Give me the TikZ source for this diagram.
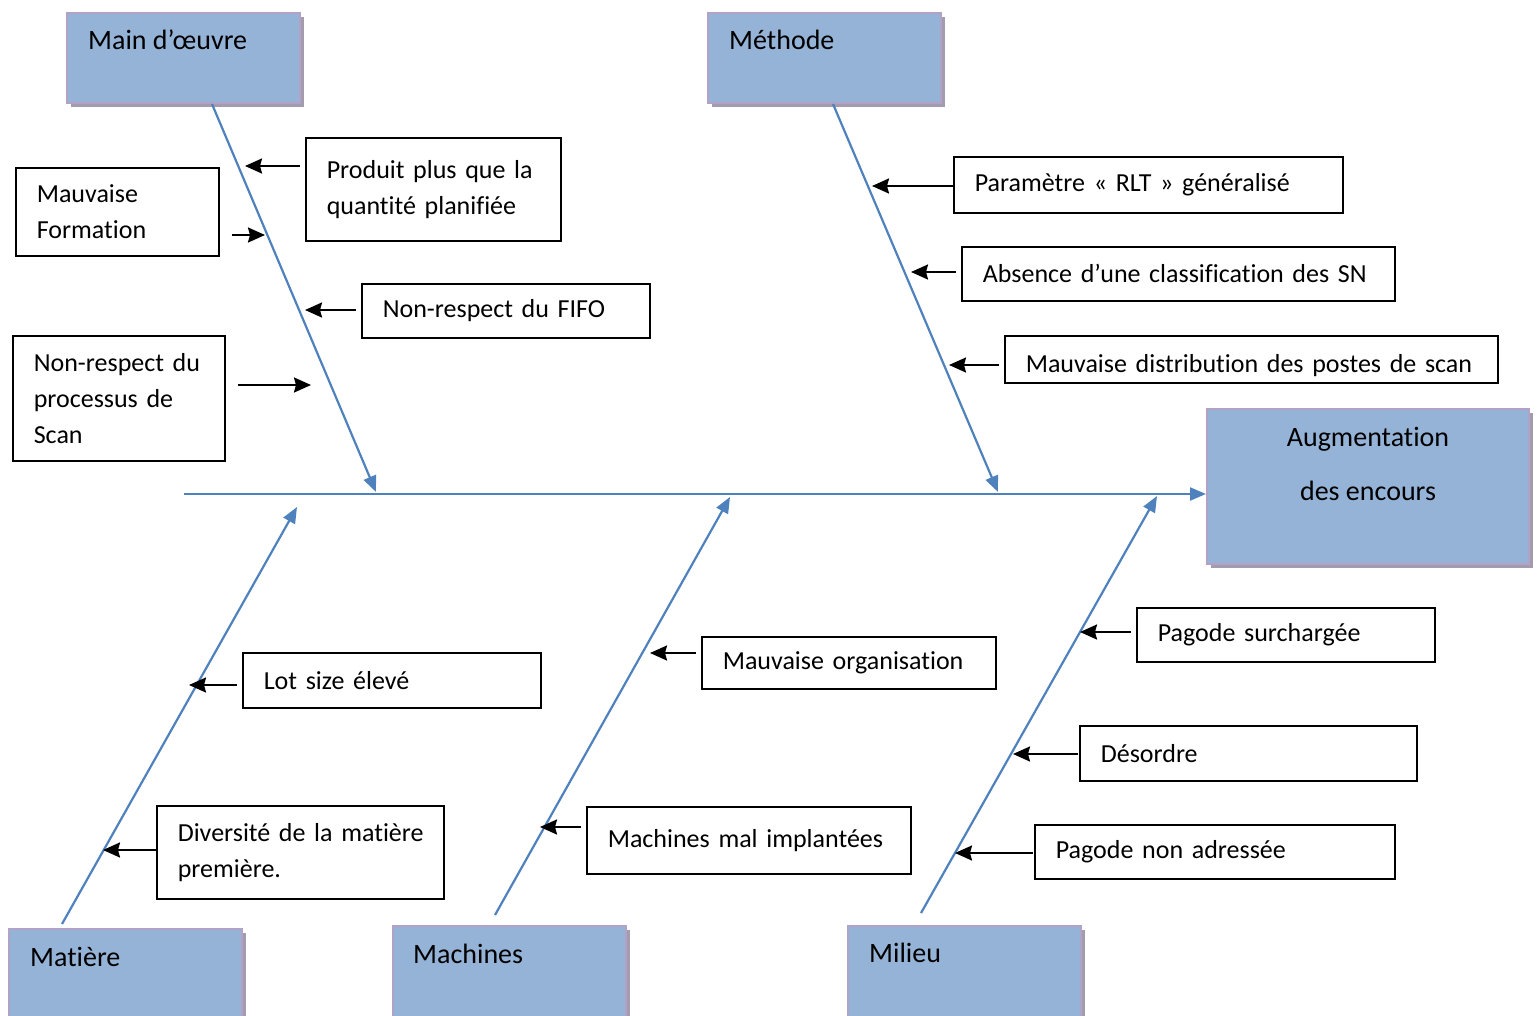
\documentclass[tikz,border=0pt]{standalone}
\usepackage{fontspec}
\setmainfont{Carlito}[Ligatures=NoCommon]
\usetikzlibrary{arrows.meta,shadows}
\definecolor{boxBlue}{HTML}{95B3D7}
\definecolor{boxEdge}{HTML}{B3A2C7}
\definecolor{shadowGrey}{HTML}{A29CAE}
\definecolor{boneBlue}{HTML}{4F81BD}
\tikzset{
  catBox/.style={draw=boxEdge, line width=2pt, fill=boxBlue, anchor=north west,
    minimum width=233pt, minimum height=#1, inner sep=0pt,
    drop shadow={shadow xshift=4pt, shadow yshift=-4pt, fill=shadowGrey, opacity=1}},
  catText/.style={anchor=west, inner sep=0pt, font=\fontsize{28}{36}\selectfont},
  causeBox/.style n args={2}{draw, line width=1.6pt, anchor=north west, align=left,
    text width=#1-16pt, minimum height=#2, inner xsep=8pt, inner ysep=0pt,
    execute at begin node={\leftskip=13pt},
    font=\fontsize{26}{36}\selectfont},
  boneLine/.style={draw=boneBlue, line width=2.2pt, -{Triangle[length=16pt,width=13pt]}},
  causeArrow/.style={draw=black, line width=2.2pt, shorten <=5pt,
    -{Stealth[length=17pt,width=15pt,inset=2pt]}},
}
\begin{document}
\begin{tikzpicture}[x=1pt,y=-1pt]
\useasboundingbox (0,0) rectangle (1539,1015);

% categories
\node[catBox=90pt] (mo) at (66,12) {};
\node[catText] at ([xshift=22pt,yshift=-28pt]mo.north west) {Main d’œuvre};
\node[catBox=90pt] (me) at (707,12) {};
\node[catText] at ([xshift=22pt,yshift=-28pt]me.north west) {Méthode};
\node[catBox=110pt] (mat) at (8,928) {};
\node[catText] at ([xshift=22pt,yshift=-29pt]mat.north west) {Matière};
\node[catBox=110pt] (mac) at (392,925) {};
\node[catText] at ([xshift=21pt,yshift=-29pt]mac.north west) {Machines};
\node[catBox=110pt] (mil) at (847,925) {};
\node[catText] at ([xshift=22pt,yshift=-28pt]mil.north west) {Milieu};

% effect
\node[draw=boxEdge, line width=2pt, fill=boxBlue, anchor=north west, minimum width=322pt,
  minimum height=155pt, inner sep=0pt,
  drop shadow={shadow xshift=4pt, shadow yshift=-4pt, fill=shadowGrey, opacity=1}] (eff) at (1206,408) {};
\node[anchor=north, align=center, inner sep=0pt, font=\fontsize{28}{54}\selectfont]
  at ([yshift=-19pt]eff.north) {Augmentation\\des encours};

% spine and bones
\coordinate (tail) at (184,494);
\draw[boneLine] (tail) -- (tail -| eff.west);
\coordinate (moTip) at (376,492);
\coordinate (meTip) at (998,492);
\coordinate (matTip) at (297,507);
\coordinate (macTip) at (730,497);
\coordinate (milTip) at (1157,496);
\draw[boneLine] ([xshift=28.5pt]mo.south) -- (moTip);
\draw[boneLine] ([xshift=8.5pt]me.south) -- (meTip);
\draw[boneLine] ([xshift=-63.5pt,yshift=4pt]mat.north) -- (matTip);
\draw[boneLine] ([xshift=-14.5pt,yshift=10pt]mac.north) -- (macTip);
\draw[boneLine] ([xshift=-43.5pt,yshift=12pt]mil.north) -- (milTip);

% causes
\node[causeBox={255pt}{103pt}] (prod) at (305,137) {Produit plus que la\\quantité planifiée};
\node[causeBox={203pt}{88pt}] (form) at (15,167) {Mauvaise\\Formation};
\node[causeBox={288pt}{54pt}] (fifo) at (361,283) {Non-respect du FIFO};
\node[causeBox={212pt}{125pt}] (scan) at (12,335) {Non-respect du\\processus de\\Scan};
\node[causeBox={389pt}{56pt}] (rlt) at (953,156) {Paramètre « RLT » généralisé};
\node[causeBox={433pt}{54pt}] (abs) at (961,246) {Absence d’une classification des SN};
\node[causeBox={493pt}{47pt}, text height=32pt, text depth=6pt] (dist) at (1004,335) {Mauvaise distribution des postes de scan};
\node[causeBox={298pt}{55pt}] (lot) at (242,652) {Lot size élevé};
\node[causeBox={287pt}{93pt}] (div) at (156,805) {Diversité de la matière\\première.};
\node[causeBox={294pt}{52pt}] (org) at (701,636) {Mauvaise organisation};
\node[causeBox={324pt}{67pt}] (mach) at (586,806) {Machines mal implantées};
\node[causeBox={298pt}{54pt}] (surch) at (1136,607) {Pagode surchargée};
\node[causeBox={337pt}{55pt}] (des) at (1079,725) {Désordre};
\node[causeBox={360pt}{54pt}] (nonadr) at (1034,824) {Pagode non adressée};

\coordinate (t1) at (245,166);
\coordinate (t2) at (265,235);
\coordinate (t3) at (305,310);
\coordinate (t4) at (311,385);
\coordinate (t5) at (872,186);
\coordinate (t6) at (911,272);
\coordinate (t7) at (949,365);
\coordinate (t8) at (189,685);
\coordinate (t9) at (103,850);
\coordinate (t10) at (650,653);
\coordinate (t11) at (540,827);
\coordinate (t12) at (1080,632);
\coordinate (t13) at (1013,754);
\coordinate (t14) at (955,853);
\draw[causeArrow] (prod.west |- t1) -- (t1);
\draw[causeArrow, shorten <=12pt] (form.east |- t2) -- (t2);
\draw[causeArrow] (fifo.west |- t3) -- (t3);
\draw[causeArrow, shorten <=12pt] (scan.east |- t4) -- (t4);
\draw[causeArrow, shorten <=0pt] (rlt.west |- t5) -- (t5);
\draw[causeArrow] (abs.west |- t6) -- (t6);
\draw[causeArrow] (dist.west |- t7) -- (t7);
\draw[causeArrow] (lot.west |- t8) -- (t8);
\draw[causeArrow, shorten <=0pt] (div.west |- t9) -- (t9);
\draw[causeArrow] (org.west |- t10) -- (t10);
\draw[causeArrow] (mach.west |- t11) -- (t11);
\draw[causeArrow] (surch.west |- t12) -- (t12);
\draw[causeArrow, shorten <=1pt] (des.west |- t13) -- (t13);
\draw[causeArrow, shorten <=1pt] (nonadr.west |- t14) -- (t14);

\end{tikzpicture}
\end{document}
